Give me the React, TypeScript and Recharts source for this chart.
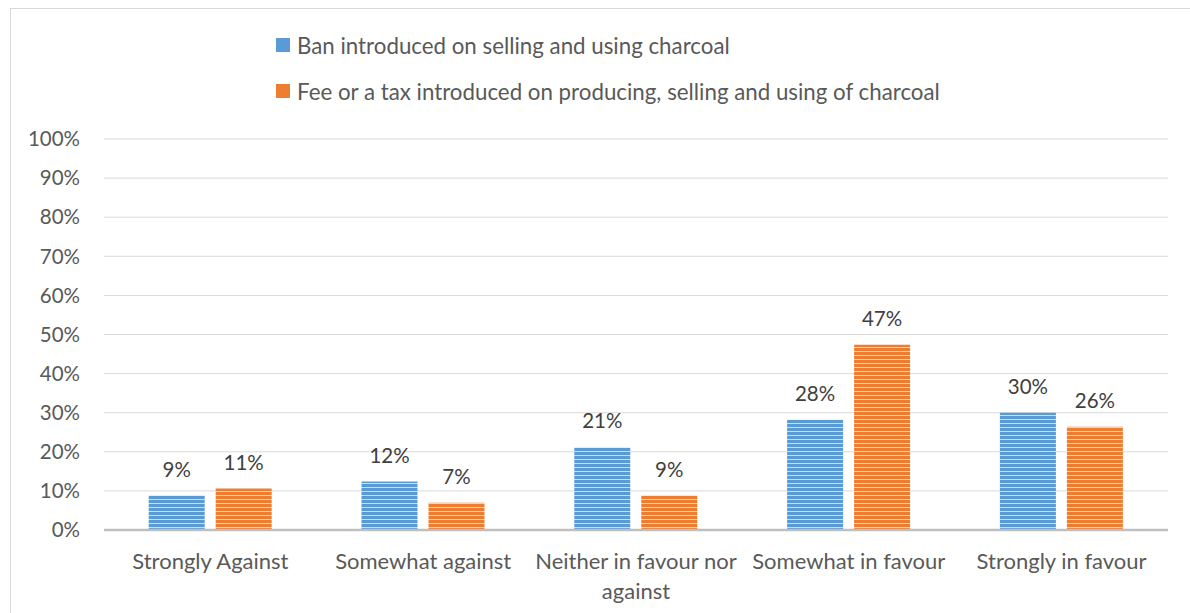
import React from "react";
import { BarChart, Bar, XAxis, YAxis, CartesianGrid, LabelList } from "recharts";

const categories = ["Strongly Against", "Somewhat against", "Neither in favour nor against", "Somewhat in favour", "Strongly in favour"];
const banValues = [8.8, 12.4, 21.1, 28.2, 30.0];
const feeValues = [10.6, 7.0, 8.8, 47.4, 26.4];
const seriesNames = ["Ban introduced on selling and using charcoal", "Fee or a tax introduced on producing, selling and using of charcoal"];
const yTicks = [0, 10, 20, 30, 40, 50, 60, 70, 80, 90, 100];

const FONT = "Lato, 'Open Sans', sans-serif";

const data = categories.map((c, i) => ({ name: c, ban: banValues[i], fee: feeValues[i] }));

// wrap a label into lines no wider than maxW, measured with a canvas
function wrapLabel(text: string, maxW: number, font: string): string[] {
    const ctx = document.createElement("canvas").getContext("2d");
    if (!ctx) return [text];
    ctx.font = font;
    const words = text.split(" ");
    const lines: string[] = [];
    let cur = "";
    words.forEach(w => {
        const next = cur ? cur + " " + w : w;
        if (cur && ctx.measureText(next).width > maxW) {
            lines.push(cur);
            cur = w;
        } else {
            cur = next;
        }
    });
    if (cur) lines.push(cur);
    return lines;
}

const CategoryTick = (props: any) => {
    const { x, y, payload } = props;
    const lines = wrapLabel(String(payload.value), 205, "22px Lato");
    return (
        <text x={x} y={y} textAnchor="middle" fill="#595959" fontSize={22} fontFamily={FONT}>
            {lines.map((l, i) => (
                <tspan key={i} x={x} dy={i === 0 ? 16 : 30}>{l}</tspan>
            ))}
        </text>
    );
};

function LegendBox() {
    const items = [
        { label: seriesNames[0], color: "#5B9BD5" },
        { label: seriesNames[1], color: "#ED7D31" },
    ];
    return (
        <div style={{ position: "absolute", left: 276, top: 22, fontFamily: FONT, fontSize: 22.3, color: "#595959" }}>
            {items.map((it, i) => (
                <div key={i} style={{ display: "flex", alignItems: "center", height: 46, whiteSpace: "nowrap" }}>
                    <span style={{ display: "inline-block", width: 14, height: 14, background: it.color, marginRight: 7 }} />
                    <span>{it.label}</span>
                </div>
            ))}
        </div>
    );
}

export default function App() {
    return (
        <div style={{ position: "absolute", left: 0, top: 0, width: 1190, height: 613, background: "#fff", overflow: "hidden" }}>
            <div style={{ position: "absolute", left: 10, top: 8, width: 1200, height: 640, border: "1px solid #D9D9D9" }} />
            <div style={{ position: "absolute", left: 0, top: 0 }}>
                <BarChart width={1190} height={613} data={data}
                    margin={{ top: 139, right: 22, bottom: 0, left: 0 }}
                    barGap={11} barCategoryGap="21%">
                    <defs>
                        <pattern id="stripeBlue" patternUnits="userSpaceOnUse" width={8} height={4}>
                            <rect x={0} y={0} width={8} height={4} fill="#5B9BD5" />
                            <rect x={0} y={3} width={8} height={1} fill="#C9DDF2" />
                        </pattern>
                        <pattern id="stripeOrange" patternUnits="userSpaceOnUse" width={8} height={4}>
                            <rect x={0} y={0} width={8} height={4} fill="#ED7D31" />
                            <rect x={0} y={3} width={8} height={1} fill="#F9CFB2" />
                        </pattern>
                    </defs>
                    <CartesianGrid vertical={false} stroke="#D9D9D9" strokeWidth={1} />
                    <XAxis dataKey="name" height={83} axisLine={{ stroke: "#BFBFBF", strokeWidth: 2.5 }} tickLine={false}
                        tick={<CategoryTick />} interval={0} tickMargin={17} />
                    <YAxis domain={[0, 100]} ticks={yTicks} width={104} axisLine={false} tickLine={false}
                        tickSize={0} tickMargin={24}
                        tickFormatter={(v: number) => `${v}%`}
                        tick={{ fill: "#595959", fontSize: 20.5, fontFamily: FONT }} />
                    <Bar dataKey="ban" name={seriesNames[0]} fill="url(#stripeBlue)" isAnimationActive={false}>
                        <LabelList dataKey="ban" position="top" offset={19} fill="#404040" fontSize={20.5} fontFamily={FONT}
                            formatter={(v: any) => `${Math.round(Number(v))}%`} />
                    </Bar>
                    <Bar dataKey="fee" name={seriesNames[1]} fill="url(#stripeOrange)" isAnimationActive={false}>
                        <LabelList dataKey="fee" position="top" offset={19} fill="#404040" fontSize={20.5} fontFamily={FONT}
                            formatter={(v: any) => `${Math.round(Number(v))}%`} />
                    </Bar>
                </BarChart>
            </div>
            <LegendBox />
        </div>
    );
}
